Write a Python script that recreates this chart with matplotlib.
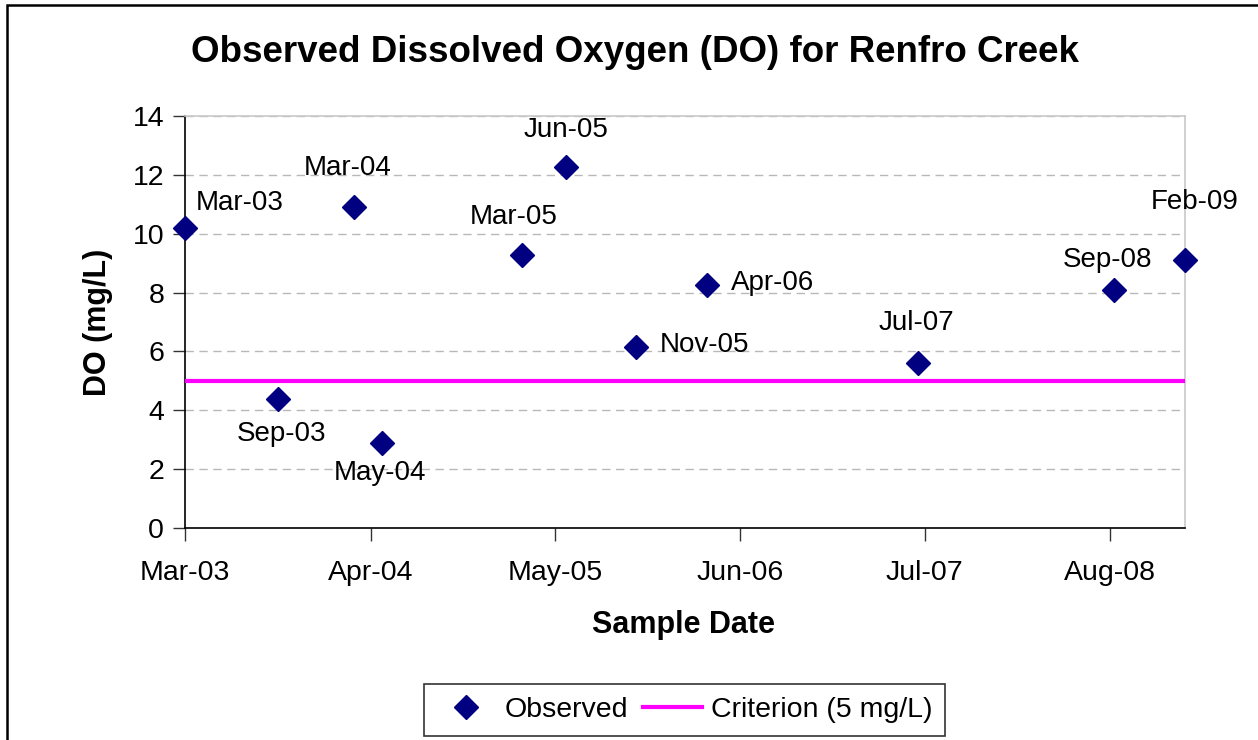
import matplotlib
matplotlib.use("Agg")
import matplotlib.pyplot as plt
import matplotlib.dates as mdates
from matplotlib.patches import Rectangle

# ---- data ----
sample_dates = ["2003-03-15", "2003-09-29", "2004-03-11", "2004-05-09", "2005-03-06",
                "2005-06-08", "2005-11-04", "2006-04-06", "2007-07-01", "2008-08-22",
                "2009-01-22"]
point_labels = ["Mar-03", "Sep-03", "Mar-04", "May-04", "Mar-05", "Jun-05",
                "Nov-05", "Apr-06", "Jul-07", "Sep-08", "Feb-09"]
do_values = [10.2, 4.4, 10.9, 2.9, 9.28, 12.26, 6.14, 8.26, 5.6, 8.1, 9.12]
tick_dates = ["2003-03-15", "2004-04-15", "2005-05-15", "2006-06-15", "2007-07-15", "2008-08-15"]
tick_labels = ["Mar-03", "Apr-04", "May-05", "Jun-06", "Jul-07", "Aug-08"]
criterion = 5.0
y_ticks = [0, 2, 4, 6, 8, 10, 12, 14]

# label placement (pixel offsets, style only)
label_offsets = [(11, 25, "left"), (4, -35, "center"), (-6, 39, "center"), (-2, -30, "center"),
                 (-9, 38, "center"), (0, 37, "center"), (24, 2, "left"), (24, 2, "left"),
                 (-2, 40, "center"), (-6, 30, "center"), (10, 58, "center")]

FONT = "Liberation Sans"
plt.rcParams["font.family"] = [FONT, "DejaVu Sans"]

W, H = 1258, 740
fig = plt.figure(figsize=(W / 100, H / 100), dpi=100)
fig.patch.set_facecolor("white")

# outer chart border (left/top visible)
fig.add_artist(Rectangle((7 / W, -0.1), 1.2, 1 - 5 / H + 0.1, transform=fig.transFigure,
                         fill=False, edgecolor="black", linewidth=1.8))

ax = fig.add_axes([185 / W, 1 - 528 / H, 1000 / W, (528 - 116) / H])

x = mdates.datestr2num(sample_dates)
ax.plot(x, do_values, linestyle="none", marker="D", markersize=12.5,
        color="#000080", label="Observed", zorder=5, clip_on=False)
ax.axhline(criterion, color="#FF00FF", linewidth=3, label="Criterion (5 mg/L)", zorder=4)

ax.set_xlim(x[0], x[-1])
ax.set_ylim(0, 14)
ax.set_yticks(y_ticks)
ax.set_xticks(mdates.datestr2num(tick_dates))
ax.set_xticklabels(tick_labels)

for xi, yi, lab, (dx, dy, ha) in zip(x, do_values, point_labels, label_offsets):
    ax.annotate(lab, (xi, yi), xytext=(dx, dy), textcoords="offset pixels",
                ha=ha, va="center", fontsize=20, color="black", zorder=6,
                annotation_clip=False)

ax.grid(axis="y", color="#b8b8b8", linestyle=(0, (6, 4)), linewidth=1)
ax.set_axisbelow(True)
for s in ["top", "right"]:
    ax.spines[s].set_color("#c8c8c8")
    ax.spines[s].set_linewidth(1.2)
for s in ["left", "bottom"]:
    ax.spines[s].set_color("black")
    ax.spines[s].set_linewidth(1.2)

ax.tick_params(axis="both", direction="out", length=9, width=1, color="#333333",
               labelsize=20.5, pad=6)
ax.tick_params(axis="x", pad=14)

ax.set_xlabel("Sample Date", fontsize=22, fontweight="bold", va="center")
ax.xaxis.set_label_coords(0.498, -(625 - 528) / 412)
ax.set_ylabel("DO (mg/L)", fontsize=22, fontweight="bold", va="center")
ax.yaxis.set_label_coords(-(185 - 98) / 1000, (528 - 322) / 412)

fig.text(635 / W, 1 - 52 / H, "Observed Dissolved Oxygen (DO) for Renfro Creek",
         ha="center", va="center", fontsize=26.5, fontweight="bold")

leg = fig.legend(loc="center", bbox_to_anchor=(684.5 / W, 1 - 710 / H), ncol=2,
                 fontsize=20.5, frameon=True, fancybox=False, handlelength=2.1,
                 handletextpad=0.3, columnspacing=0.5, borderpad=0.45, numpoints=1,
                 edgecolor="black")
leg.get_frame().set_linewidth(1.2)

fig.savefig("out.png", dpi=100)
